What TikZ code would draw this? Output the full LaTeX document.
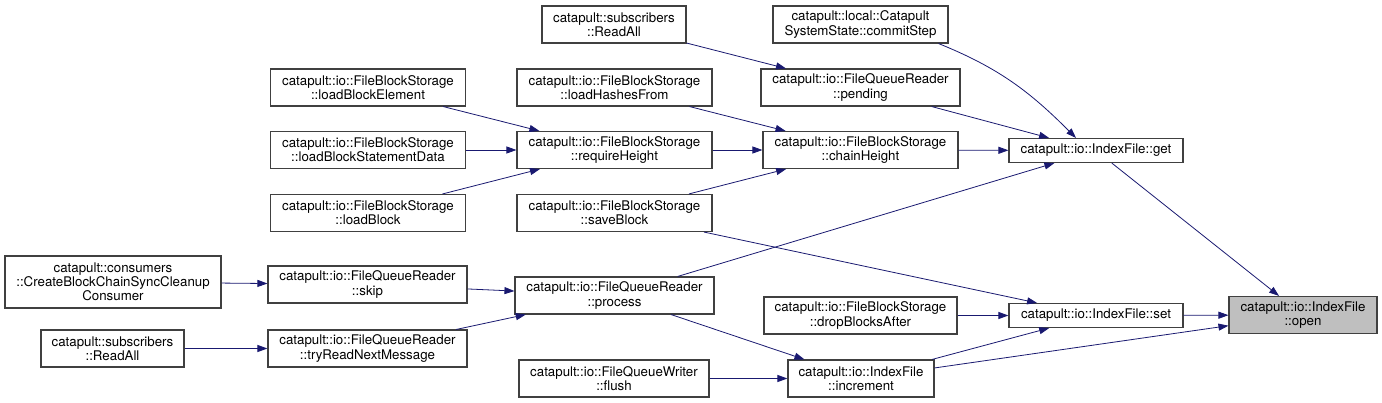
\documentclass[tikz,border=0pt]{standalone}
\usepackage{fontspec}
\setmainfont{TeX Gyre Heros}
\usepackage{tikz}
\usepackage{xcolor}
\usetikzlibrary{arrows.meta}

\definecolor{edgeblue}{HTML}{191970}
\definecolor{boxline}{HTML}{404040}
\definecolor{selgray}{HTML}{BFBFBF}

\tikzset{
  fn/.style={rectangle, draw=boxline, line width=1.1pt, fill=white, align=center,
    inner xsep=0pt, inner ysep=0pt, minimum height=37pt,
    font=\fontsize{13.3}{14.2}\selectfont},
  fnone/.style={fn, minimum height=24pt},
  fnthree/.style={fn, minimum height=52pt},
  fnsel/.style={fn, fill=selgray},
  call/.style={draw=edgeblue, line width=0.8pt, -{Triangle[length=10pt,width=7pt]}}
}

\begin{document}
\begin{tikzpicture}[x=1pt, y=-1pt]
\useasboundingbox (0,0) rectangle (1382,403);

% callee
\node[fnsel, minimum width=148pt] (open) at (1303,315) {catapult::io::IndexFile\\::open};

% direct callers
\node[fnone, minimum width=174pt] (get) at (1096,150.5) {catapult::io::IndexFile::get};
\node[fnone, minimum width=174pt] (set) at (1096,315.5) {catapult::io::IndexFile::set};

% third column
\node[fn, minimum width=175pt] (commitStep) at (860.5,24.5) {catapult::local::Catapult\\SystemState::commitStep};
\node[fn, minimum width=199pt] (pending) at (860.5,87.5) {catapult::io::FileQueueReader\\::pending};
\node[fn, minimum width=195pt] (chainHeight) at (860.5,150) {catapult::io::FileBlockStorage\\::chainHeight};
\node[fn, minimum width=193pt] (dropBlocksAfter) at (860.5,315.5) {catapult::io::FileBlockStorage\\::dropBlocksAfter};
\node[fn, minimum width=146pt] (increment) at (861,378.5) {catapult::io::IndexFile\\::increment};

% second column
\node[fn, minimum width=144pt] (readAllTop) at (614,24.5) {catapult::subscribers\\::ReadAll};
\node[fn, minimum width=195pt] (loadHashesFrom) at (614.5,87.5) {catapult::io::FileBlockStorage\\::loadHashesFrom};
\node[fn, minimum width=195pt] (requireHeight) at (614.5,150) {catapult::io::FileBlockStorage\\::requireHeight};
\node[fn, minimum width=195pt] (saveBlock) at (614.5,213) {catapult::io::FileBlockStorage\\::saveBlock};
\node[fn, minimum width=199pt] (process) at (614.5,295.5) {catapult::io::FileQueueReader\\::process};
\node[fn, minimum width=190pt] (flush) at (614,378.5) {catapult::io::FileQueueWriter\\::flush};

% first column
\node[fn, minimum width=195pt] (loadBlockElement) at (368,87.5) {catapult::io::FileBlockStorage\\::loadBlockElement};
\node[fn, minimum width=195pt] (loadBlockStatementData) at (368,150) {catapult::io::FileBlockStorage\\::loadBlockStatementData};
\node[fn, minimum width=195pt] (loadBlock) at (368,213) {catapult::io::FileBlockStorage\\::loadBlock};
\node[fn, minimum width=199pt] (skip) at (367.5,284.5) {catapult::io::FileQueueReader\\::skip};
\node[fn, minimum width=199pt] (tryReadNextMessage) at (367.5,348.5) {catapult::io::FileQueueReader\\::tryReadNextMessage};

% outer callers
\node[fnthree, minimum width=216pt] (consumer) at (113,282) {catapult::consumers\\::CreateBlockChainSyncCleanup\\Consumer};
\node[fn, minimum width=143pt] (readAllBottom) at (112.5,348.5) {catapult::subscribers\\::ReadAll};

% calls
\draw[call] (get) -- (open);
\draw[call] (set) -- (open);
\draw[call] (increment) -- (open);
\draw[call] ([xshift=-10pt]commitStep.south east) to[out=-22,in=135] ([xshift=-20pt]get.north);
\draw[call] (pending) -- (get);
\draw[call] (chainHeight) -- (get);
\draw[call] (process) -- (get);
\draw[call] (saveBlock) -- (set);
\draw[call] (dropBlocksAfter) -- (set);
\draw[call] (increment) -- (set);
\draw[call] (readAllTop) -- (pending);
\draw[call] (loadHashesFrom) -- (chainHeight);
\draw[call] (requireHeight) -- (chainHeight);
\draw[call] (saveBlock) -- (chainHeight);
\draw[call] (loadBlockElement) -- (requireHeight);
\draw[call] (loadBlockStatementData) -- (requireHeight);
\draw[call] (loadBlock) -- (requireHeight);
\draw[call] (process) -- (increment);
\draw[call] (flush) -- (increment);
\draw[call] (skip) -- (process);
\draw[call] (tryReadNextMessage) -- (process);
\draw[call] (consumer) -- (skip);
\draw[call] (readAllBottom) -- (tryReadNextMessage);
\end{tikzpicture}
\end{document}
